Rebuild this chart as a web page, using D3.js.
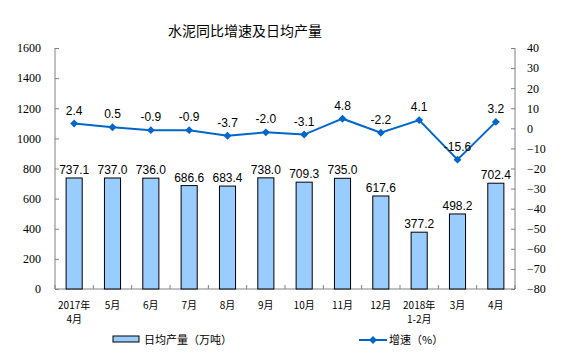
<!DOCTYPE html>
<html><head><meta charset="utf-8">
<script src="https://cdn.jsdelivr.net/npm/d3@7"></script>
<style>body{margin:0;background:#fff}</style>
</head><body>
<svg id="c" width="574" height="357"></svg>
<script>
const categories = [["2017年","4月"],["5月"],["6月"],["7月"],["8月"],["9月"],["10月"],["11月"],["12月"],["2018年","1-2月"],["3月"],["4月"]];
const output = [737.1,737.0,736.0,686.6,683.4,738.0,709.3,735.0,617.6,377.2,498.2,702.4];
const growth = [2.4,0.5,-0.9,-0.9,-3.7,-2.0,-3.1,4.8,-2.2,4.1,-15.6,3.2];
const leftTicks = [0,200,400,600,800,1000,1200,1400,1600];
const rightTicks = [40,30,20,10,0,-10,-20,-30,-40,-50,-60,-70,-80];

const svg = d3.select("#c");
const L=55,R=515,T=48,B=289;
const x = d3.scaleBand().domain(d3.range(categories.length)).range([L,R]).paddingInner(0).paddingOuter(0);
const yL = d3.scaleLinear().domain([0,1600]).range([B,T]);
const yR = d3.scaleLinear().domain([-80,40]).range([B,T]);
const axisColor="#808080";
const serif="'Liberation Serif','Times New Roman',serif";
const sans="'Liberation Sans',Arial,sans-serif";

svg.append("text").attr("x",245).attr("y",36).attr("text-anchor","middle")
  .attr("font-family","'Noto Sans CJK SC',sans-serif").attr("font-size",14).text("水泥同比增速及日均产量");

// left axis
const gl = svg.append("g").attr("transform",`translate(${L},0)`)
  .call(d3.axisLeft(yL).tickValues(leftTicks).tickSize(-4).tickPadding(14).tickFormat(d3.format("d")));
gl.selectAll("path,line").attr("stroke",axisColor);
gl.select(".domain").attr("d",`M0,${T}H0V${B}`);
gl.selectAll("text").attr("font-family",serif).attr("font-size",12).attr("fill","#000");

// right axis
const gr = svg.append("g").attr("transform",`translate(${R},0)`)
  .call(d3.axisRight(yR).tickValues(rightTicks).tickSize(-4).tickPadding(12).tickFormat(d3.format("d")));
gr.selectAll("path,line").attr("stroke",axisColor);
gr.select(".domain").attr("d",`M0,${T}H0V${B}`);
gr.selectAll("text").attr("font-family",serif).attr("font-size",12).attr("fill","#000");

// bottom axis
svg.append("line").attr("x1",L).attr("x2",R).attr("y1",B).attr("y2",B).attr("stroke",axisColor);
svg.selectAll(".xt").data(d3.range(categories.length+1)).enter().append("line")
  .attr("x1",i=>L+i*x.bandwidth()).attr("x2",i=>L+i*x.bandwidth())
  .attr("y1",B).attr("y2",B-4).attr("stroke",axisColor);

// bars
const bw = x.bandwidth()*0.42;
svg.selectAll(".bar").data(output).enter().append("rect")
  .attr("x",(d,i)=>x(i)+x.bandwidth()/2-bw/2).attr("width",bw)
  .attr("y",d=>yL(d)).attr("height",d=>B-yL(d))
  .attr("fill","#99CCFF").attr("stroke","#000").attr("stroke-width",1);
svg.selectAll(".bl").data(output).enter().append("text")
  .attr("x",(d,i)=>x(i)+x.bandwidth()/2).attr("y",d=>yL(d)-4)
  .attr("text-anchor","middle").attr("font-family",sans).attr("font-size",12).text(d=>d.toFixed(1));

// line
const line = d3.line().x((d,i)=>x(i)+x.bandwidth()/2).y(d=>yR(d));
svg.append("path").datum(growth).attr("d",line).attr("fill","none").attr("stroke","#0066CC").attr("stroke-width",2);
svg.selectAll(".pt").data(growth).enter().append("path")
  .attr("transform",(d,i)=>`translate(${x(i)+x.bandwidth()/2},${yR(d)})`)
  .attr("d",d3.symbol().type(d3.symbolDiamond2).size(40)).attr("fill","#0066CC");
svg.selectAll(".ll").data(growth).enter().append("text")
  .attr("x",(d,i)=>x(i)+x.bandwidth()/2).attr("y",d=>yR(d)-9)
  .attr("text-anchor","middle").attr("font-family",sans).attr("font-size",12).text(d=>d.toFixed(1));

// x labels
const xl = svg.selectAll(".xl").data(categories).enter().append("text")
  .attr("text-anchor","middle").attr("font-family","'Noto Sans CJK SC',sans-serif").attr("font-size",10);
xl.each(function(d,i){
  const t=d3.select(this);
  d.forEach((s,j)=>t.append("tspan").attr("x",x(i)+x.bandwidth()/2).attr("y",309+j*14).text(s));
});

// legend
svg.append("rect").attr("x",113).attr("y",336).attr("width",26).attr("height",6).attr("fill","#99CCFF").attr("stroke","#000");
svg.append("text").attr("x",144).attr("y",344).attr("font-family","'Noto Sans CJK SC',sans-serif").attr("font-size",11).text("日均产量（万吨）");
svg.append("line").attr("x1",359).attr("x2",387).attr("y1",340).attr("y2",340).attr("stroke","#0066CC").attr("stroke-width",2);
svg.append("path").attr("transform","translate(373,340)").attr("d",d3.symbol().type(d3.symbolDiamond2).size(40)).attr("fill","#0066CC");
svg.append("text").attr("x",389).attr("y",344).attr("font-family","'Noto Sans CJK SC',sans-serif").attr("font-size",11).text("增速（%）");
</script>
</body></html>
